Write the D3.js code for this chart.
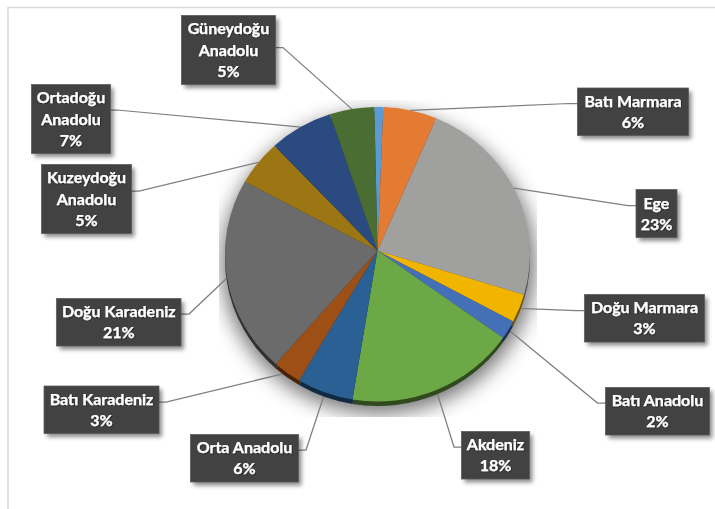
<!DOCTYPE html>
<html lang="tr">
<head>
<meta charset="utf-8">
<title>Bölgelere göre dağılım</title>
<script src="https://cdn.jsdelivr.net/npm/d3@7/dist/d3.min.js"></script>
<style>
  html, body { margin: 0; padding: 0; background: #fff; }
  svg { display: block; }
  .label-text { font-family: Lato, "Open Sans", sans-serif; font-weight: 700; font-size: 16px; fill: #fff; stroke: #fff; stroke-width: 0.25px; text-anchor: middle; }
</style>
</head>
<body>
<svg id="chart" width="715" height="509"></svg>
<script>
// Regional shares, clockwise from twelve o'clock. The first slice carries no label.
const regions = ["", "Batı Marmara", "Ege", "Doğu Marmara", "Batı Anadolu", "Akdeniz", "Orta Anadolu",
  "Batı Karadeniz", "Doğu Karadeniz", "Kuzeydoğu Anadolu", "Ortadoğu Anadolu", "Güneydoğu Anadolu"];
const shares = [1, 6, 23, 3, 2, 18, 6, 3, 21, 5, 7, 5];
const sliceColors = ["#5b9bd5", "#e47b33", "#a0a09f", "#f1b500", "#4470b8", "#6ca845", "#2a6093",
  "#9e4f15", "#6b6b6b", "#9b7613", "#2b4a7f", "#4a6d33"];
const labelLines = [null, ["Batı Marmara"], ["Ege"], ["Doğu Marmara"], ["Batı Anadolu"], ["Akdeniz"],
  ["Orta Anadolu"], ["Batı Karadeniz"], ["Doğu Karadeniz"], ["Kuzeydoğu", "Anadolu"],
  ["Ortadoğu", "Anadolu"], ["Güneydoğu", "Anadolu"]];

// Callout placement: box [x, y, width, height], then the leader's exit height and elbow x.
const boxes = [null, [577.5, 88, 111, 47.5], [636, 189.5, 41, 48], [584.5, 294.5, 120, 47.5],
  [605.5, 387.5, 104, 47.5], [461.5, 431.5, 68, 47.5], [190.5, 434.5, 108, 47.5],
  [44, 386, 115, 47.5], [56.5, 298.5, 124.5, 47.5], [41.5, 164.5, 90, 69],
  [31.5, 84.5, 79, 69], [181.5, 15.5, 94, 69]];
const leaderY = [null, 103.5, 205.5, 310.5, 403, 447, 450, 402, 314, 191, 110, 47.5];
const elbowX = [null, 569, 628, 576, 597.5, 454, 306, 166, 189, 139, 117, 283];

// Pie face: an ellipse whose apex sits slightly above its centre, as in a tilted pie.
const cx = 377.5, cy = 254.25, rx = 152.5, ry = 147.25;
const apexY = 250.7;
const rimDepth = 4.5;
const firstSliceAngle = -0.022;
const k = ry / rx;
const ay = (apexY - cy) / k;

const svg = d3.select("#chart");
const defs = svg.append("defs");

defs.append("filter").attr("id", "pieShadow")
  .attr("x", "-20%").attr("y", "-20%").attr("width", "140%").attr("height", "140%")
  .append("feGaussianBlur").attr("stdDeviation", 10);

const boxShadow = defs.append("filter").attr("id", "boxShadow")
  .attr("x", "-20%").attr("y", "-20%").attr("width", "150%").attr("height", "150%");
boxShadow.append("feGaussianBlur").attr("stdDeviation", 2);

const textShadow = defs.append("filter").attr("id", "textShadow")
  .attr("x", "-10%").attr("y", "-20%").attr("width", "120%").attr("height", "150%");
textShadow.append("feDropShadow").attr("dx", 0.5).attr("dy", 0.7).attr("stdDeviation", 0.5)
  .attr("flood-color", "#000").attr("flood-opacity", 0.7);

defs.append("clipPath").attr("id", "shadowClip")
  .append("rect").attr("x", 219).attr("y", 100).attr("width", 318).attr("height", 317);

// Fine woven texture on the callout boxes.
const weave = defs.append("pattern").attr("id", "weave")
  .attr("width", 2).attr("height", 2).attr("patternUnits", "userSpaceOnUse");
weave.append("rect").attr("width", 2).attr("height", 2).attr("fill", "#3f3f3f");
weave.append("rect").attr("width", 1).attr("height", 1).attr("fill", "#464646");
weave.append("rect").attr("x", 1).attr("y", 1).attr("width", 1).attr("height", 1).attr("fill", "#464646");

// Chart frame, open on the right and at the bottom.
svg.append("path")
  .attr("d", d3.line()([[8, 509], [8, 7.5], [715, 7.5]]))
  .attr("fill", "none").attr("stroke", "#d9d9d9").attr("stroke-width", 1.5);

const arcs = d3.pie().sort(null).value(d => d)
  .startAngle(firstSliceAngle).endAngle(firstSliceAngle + 2 * Math.PI)(shares);

// Where a ray leaving the apex at a clockwise angle meets the circle in scaled space.
function rimAngle(a) {
  const dx = Math.sin(a), dy = -Math.cos(a) / k;
  const b = ay * dy;
  const t = (-b + Math.sqrt(b * b - (dx * dx + dy * dy) * (ay * ay - rx * rx))) / (dx * dx + dy * dy);
  return { x: t * dx, y: ay + t * dy, theta: Math.atan2(ay + t * dy, t * dx) };
}

function slicePath(d) {
  const p = d3.path();
  const s = rimAngle(d.startAngle);
  let e = rimAngle(d.endAngle).theta;
  let t0 = s.theta;
  while (e < t0) e += 2 * Math.PI;
  p.moveTo(0, ay);
  p.arc(0, 0, rx, t0, e);
  p.closePath();
  return p.toString();
}

// Soft shadow, cut off by a rectangular region.
svg.append("g").attr("clip-path", "url(#shadowClip)")
  .append("ellipse")
  .attr("cx", cx + 1).attr("cy", cy + 9).attr("rx", rx + 4).attr("ry", ry + 3)
  .attr("fill", "#000").attr("fill-opacity", 0.55)
  .attr("filter", "url(#pieShadow)");

// Leaders run beneath the pie and stop on the slice edge.
const leaderData = arcs.map((d, i) => {
  if (!boxes[i]) return null;
  const b = boxes[i];
  const mid = rimAngle((d.startAngle + d.endAngle) / 2);
  const boxEdge = elbowX[i] < b[0] ? b[0] : b[0] + b[2];
  return [[boxEdge, leaderY[i]], [elbowX[i], leaderY[i]], [cx + mid.x, cy + mid.y * k]];
}).filter(Boolean);

svg.append("g").selectAll("path").data(leaderData).join("path")
  .attr("d", d3.line())
  .attr("fill", "none").attr("stroke", "#7f7f7f").attr("stroke-width", 1.25);

// Extruded rim, then the face.
svg.append("g").attr("transform", `translate(${cx},${cy + rimDepth}) scale(1,${k})`)
  .selectAll("path").data(arcs).join("path")
  .attr("d", slicePath)
  .attr("fill", (d, i) => d3.color(sliceColors[i]).darker(2.3));

svg.append("g").attr("transform", `translate(${cx},${cy}) scale(1,${k})`)
  .selectAll("path").data(arcs).join("path")
  .attr("d", slicePath)
  .attr("fill", (d, i) => sliceColors[i]);

// Callouts.
const callouts = svg.append("g").selectAll("g")
  .data(arcs.map((d, i) => ({ i, value: d.value })).filter(d => boxes[d.i]))
  .join("g")
  .attr("transform", d => `translate(${boxes[d.i][0]},${boxes[d.i][1]})`);

callouts.append("rect")
  .attr("x", 3).attr("y", 3.5)
  .attr("width", d => boxes[d.i][2]).attr("height", d => boxes[d.i][3])
  .attr("fill", "#000").attr("fill-opacity", 0.45)
  .attr("filter", "url(#boxShadow)");

callouts.append("rect")
  .attr("width", d => boxes[d.i][2]).attr("height", d => boxes[d.i][3])
  .attr("fill", "url(#weave)")
  .attr("stroke", "#5a5a5a").attr("stroke-width", 0.75);

callouts.each(function (d) {
  const lines = labelLines[d.i].concat(d3.format(".0%")(d.value / 100));
  const h = boxes[d.i][3];
  const step = lines.length === 3 ? 21.7 : 21.2;
  const top = h / 2 - step * (lines.length - 1) / 2;
  d3.select(this).selectAll("text").data(lines).join("text")
    .attr("class", "label-text")
    .attr("filter", "url(#textShadow)")
    .attr("x", boxes[d.i][2] / 2)
    .attr("y", (l, j) => top + j * step)
    .attr("dy", "0.35em")
    .text(l => l);
});
</script>
</body>
</html>
